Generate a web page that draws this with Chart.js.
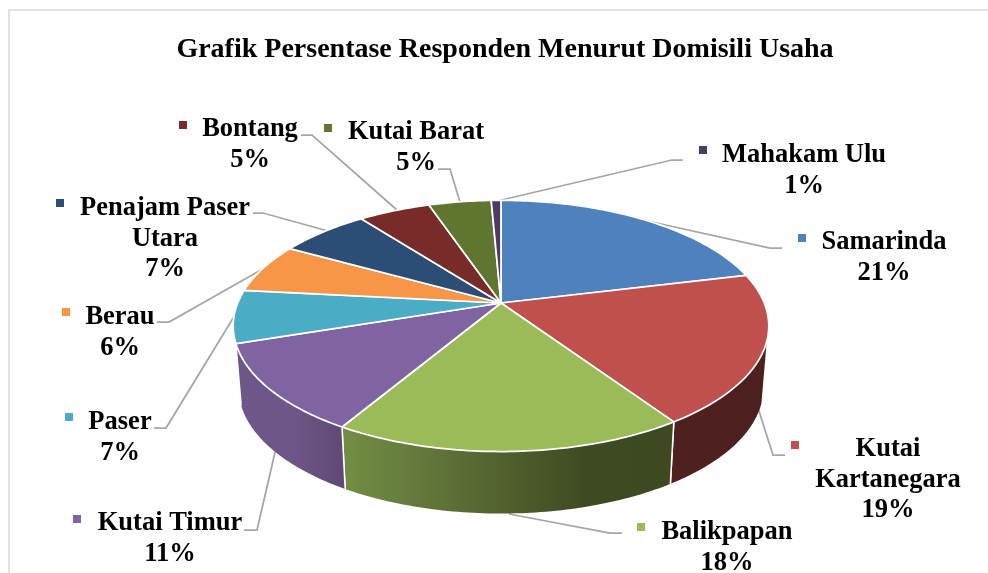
<!DOCTYPE html>
<html>
<head>
<meta charset="utf-8">
<style>
	html, body { margin: 0; padding: 0; background: #fff; }
	#wrap { position: relative; width: 988px; height: 573px; overflow: hidden; }
</style>
<script src="https://cdn.jsdelivr.net/npm/chart.js@4"></script>
</head>
<body>
<div id="wrap"><canvas id="chart" width="988" height="573"></canvas></div>
<script>
var chartTitle = "Grafik Persentase Responden Menurut Domisili Usaha";
var categories = ["Samarinda", "Kutai Kartanegara", "Balikpapan", "Kutai Timur", "Paser", "Berau", "Penajam Paser Utara", "Bontang", "Kutai Barat", "Mahakam Ulu"];
var values = [21.2, 19.4, 17.9, 11.4, 6.8, 6.4, 6.5, 5.2, 4.5, 0.7];
var colors = ["#4f81bd", "#c0504d", "#9bbb59", "#8064a2", "#4bacc6", "#f79646", "#2c4d75", "#772c2a", "#5f7530", "#4d3b62"];

// how the long names wrap in the callouts
var nameLines = [["Samarinda"], ["Kutai", "Kartanegara"], ["Balikpapan"], ["Kutai Timur"], ["Paser"], ["Berau"], ["Penajam Paser", "Utara"], ["Bontang"], ["Kutai Barat"], ["Mahakam Ulu"]];

// callout layout, one entry per category: text centre x, first line y, legend key x, y
var labelPos = [[884, 242, 802, 238], [888, 449, 795, 445], [727, 532, 641, 527], [170, 523, 77, 519], [120, 422, 69, 417], [120, 317, 66, 312], [165, 208, 60, 203], [250, 129, 183, 125], [416, 132, 328, 128], [804, 155, 703, 150]];
var leaderLines = [
	[[643, 220], [770, 248], [782, 248]],
	[[758, 408], [773, 455], [785, 455]],
	[[509, 514], [610, 533], [622, 533]],
	[[276, 448], [257, 530], [244, 530]],
	[[235, 315], [166, 428], [154, 428]],
	[[268, 266], [169, 322], [157, 322]],
	[[328, 231], [263, 213], [253, 213]],
	[[397, 210], [312, 135], [301, 135]],
	[[460, 202], [450, 169], [438, 169]],
	[[497, 201], [672, 160], [683, 160]]
];

// side wall shading for the three slices that face the viewer: x start, x end, colour stops
var wallShades = {
	1: [668, 767, ["#4f2020", "#4d1f1f"]],
	2: [345, 668, ["#728d43", "#62773a", "#515f2d", "#3e4a21", "#3e4921"]],
	3: [237, 345, ["#6f5689", "#6f5688", "#604875"]]
};

var TITLE_FONT = 'bold 28px "Liberation Serif"';
var LABEL_FONT = 'bold 26.5px "Liberation Serif"';
var TILT_X = 1.004, TILT_Y = 0.463, PERSPECTIVE = -0.1825;
var WALL_DROP = 62, WALL_SHRINK = 0.98, WALL_MIN_V = 0.3;

function project(arc, ang, drop, shrink) {
	var u = Math.cos(ang), v = Math.sin(ang);
	var w = 1 + PERSPECTIVE * v;
	return [
		arc.x + arc.outerRadius * TILT_X * u / w * shrink,
		arc.y + arc.outerRadius * TILT_Y * v / w + drop
	];
}

function traceRim(ctx, arc, a0, a1, drop, shrink, first) {
	var n = Math.max(2, Math.ceil(Math.abs(a1 - a0) * 60));
	for (var i = 0; i <= n; i++) {
		var p = project(arc, a0 + (a1 - a0) * i / n, drop, shrink);
		if (first && i == 0) ctx.moveTo(p[0], p[1]);
		else ctx.lineTo(p[0], p[1]);
	}
}

function drawWall(ctx, arc, idx) {
	var shade = wallShades[idx];
	if (!shade) return;
	// only the front of the disc shows a side wall
	var frontStart = Math.asin(WALL_MIN_V), frontEnd = Math.PI - frontStart;
	var a0 = Math.max(arc.startAngle, frontStart);
	var a1 = Math.min(arc.endAngle, frontEnd);
	if (a1 <= a0) return;
	var grad = ctx.createLinearGradient(shade[0], 0, shade[1], 0);
	shade[2].forEach(function (c, i) { grad.addColorStop(i / (shade[2].length - 1), c); });
	ctx.beginPath();
	traceRim(ctx, arc, a0, a1, 0, 1, true);
	traceRim(ctx, arc, a1, a0, WALL_DROP, WALL_SHRINK, false);
	ctx.closePath();
	ctx.fillStyle = grad;
	ctx.fill();

	// white seams where two walls meet, no outline along the bottom
	ctx.strokeStyle = "#ffffff";
	ctx.lineWidth = 1.5;
	[a0, a1].forEach(function (a) {
		if (a != frontStart && a != frontEnd) {
			var p = project(arc, a, 0, 1), q = project(arc, a, WALL_DROP, WALL_SHRINK);
			ctx.beginPath();
			ctx.moveTo(p[0], p[1]);
			ctx.lineTo(q[0], q[1]);
			ctx.stroke();
		}
	});
}

function drawTop(ctx, arc) {
	ctx.beginPath();
	ctx.moveTo(arc.x, arc.y);
	traceRim(ctx, arc, arc.startAngle, arc.endAngle, 0, 1, false);
	ctx.closePath();
	ctx.fillStyle = arc.options.backgroundColor;
	ctx.fill();
	ctx.strokeStyle = "#ffffff";
	ctx.lineWidth = 1.75;
	ctx.lineJoin = "round";
	ctx.stroke();
}

// replaces the flat arc drawing by a tilted disc, still using the arcs the controller worked out
var pie3d = {
	id: "pie3d",
	beforeDatasetDraw: function (chart, args) {
		var ctx = chart.ctx;
		ctx.save();

		// leader lines sit under the disc
		ctx.strokeStyle = "#a6a6a6";
		ctx.lineWidth = 1.75;
		leaderLines.forEach(function (pts) {
			ctx.beginPath();
			pts.forEach(function (p, i) {
				if (i == 0) ctx.moveTo(p[0], p[1]);
				else ctx.lineTo(p[0], p[1]);
			});
			ctx.stroke();
		});

		args.meta.data.forEach(function (arc, i) { drawWall(ctx, arc, i); });
		args.meta.data.forEach(function (arc) { drawTop(ctx, arc); });
		ctx.restore();
		return false;
	}
};

var callouts = {
	id: "callouts",
	afterDraw: function (chart) {
		var ctx = chart.ctx;
		ctx.save();

		// chart frame
		ctx.strokeStyle = "#d9d9d9";
		ctx.lineWidth = 1.5;
		ctx.beginPath();
		ctx.moveTo(9, 573);
		ctx.lineTo(9, 10);
		ctx.lineTo(988, 10);
		ctx.stroke();

		ctx.fillStyle = "#000000";
		ctx.font = TITLE_FONT;
		ctx.textAlign = "center";
		ctx.textBaseline = "middle";
		ctx.fillText(chartTitle, 505, 50);

		ctx.font = LABEL_FONT;
		categories.forEach(function (name, i) {
			var pos = labelPos[i];
			var lines = nameLines[i].concat([Math.round(values[i]) + "%"]);
			ctx.fillStyle = "#000000";
			lines.forEach(function (line, j) {
				ctx.fillText(line, pos[0], pos[1] + j * 30.7);
			});
			ctx.fillStyle = colors[i];
			ctx.fillRect(pos[2] - 4, pos[3] - 4, 8, 8);
		});
		ctx.restore();
	}
};

var myChart = new Chart(document.getElementById("chart"), {
	type: "pie",
	data: {
		labels: categories,
		datasets: [{
			data: values,
			backgroundColor: colors,
			borderColor: "#ffffff",
			borderWidth: 1.5
		}]
	},
	options: {
		responsive: false,
		animation: false,
		layout: { padding: { left: 238, right: 224, top: 40, bottom: 7 } },
		plugins: {
			legend: { display: false },
			tooltip: { enabled: false }
		}
	},
	plugins: [pie3d, callouts]
});
</script>
</body>
</html>
